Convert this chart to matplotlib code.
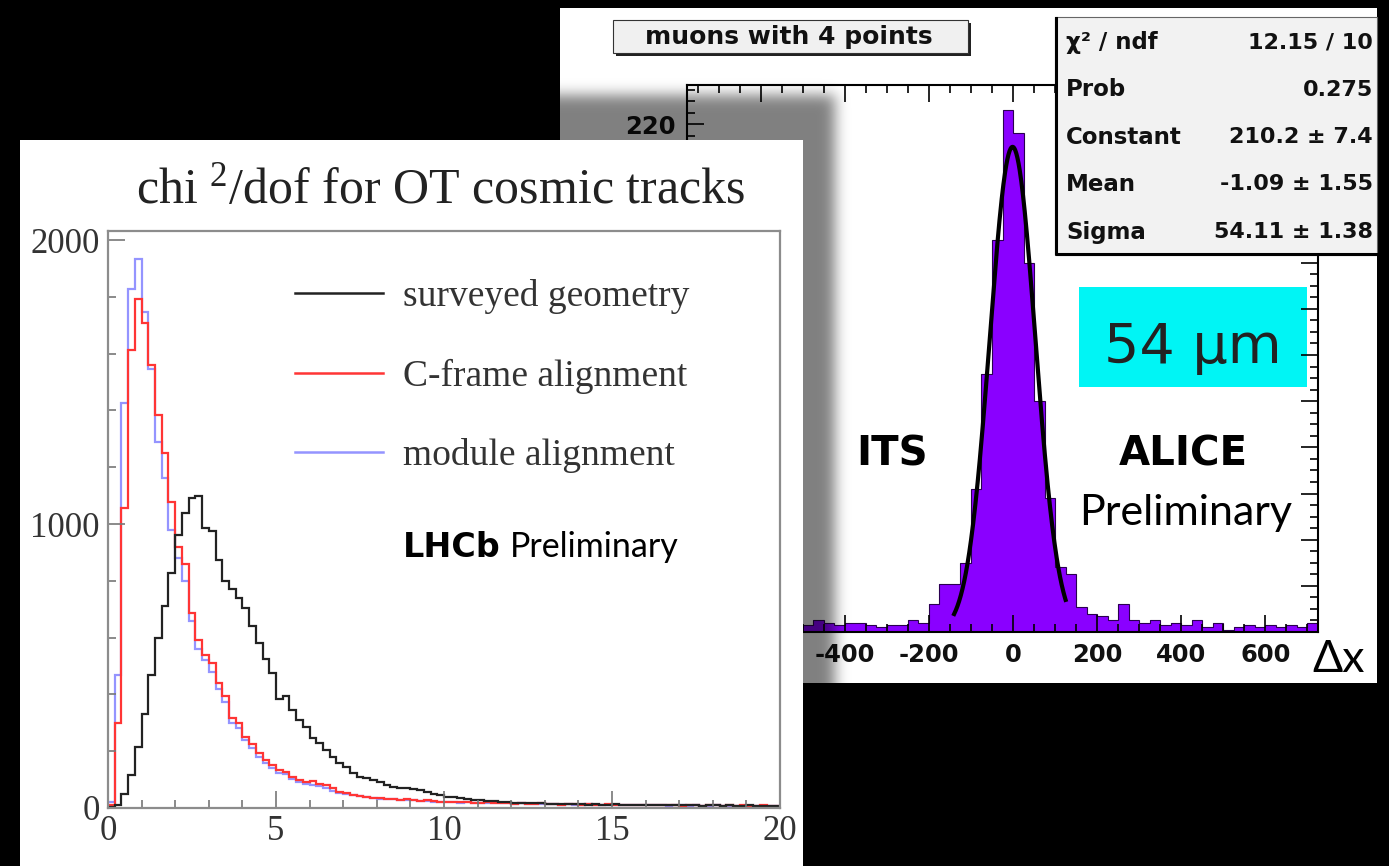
import numpy as np
import matplotlib
matplotlib.use("Agg")
import matplotlib.pyplot as plt
from matplotlib.patches import Rectangle
from matplotlib.lines import Line2D
from matplotlib.ticker import MultipleLocator, FuncFormatter

W, H = 1389, 866

# ---------------- LHCb: chi2/dof of OT cosmic tracks, 100 bins in [0, 20]
chi2_edges = np.linspace(0, 20, 101)
surveyed = [2, 12, 51, 116, 216, 330, 470, 600, 710, 826,
            960, 1040, 1091, 1098, 986, 975, 873, 800, 770, 740,
            705, 640, 580, 525, 475, 385, 395, 345, 310, 285,
            245, 228, 204, 181, 157, 145, 122, 110, 105, 99,
            90, 81, 75, 72, 69, 66, 63, 55, 51, 45,
            40, 37, 34, 31, 28, 27, 25, 23, 22, 20,
            19, 18, 17, 16, 16, 15, 14, 15, 13, 14,
            13, 12, 14, 12, 11, 13, 11, 12, 10, 11,
            12, 10, 9, 11, 10, 9, 10, 9, 8, 10,
            9, 8, 9, 8, 7, 9, 8, 7, 8, 7]
cframe = [10, 298, 1055, 1613, 1791, 1707, 1560, 1384, 1249, 1079,
          920, 861, 685, 590, 539, 509, 440, 395, 316, 298,
          251, 225, 192, 169, 150, 135, 128, 110, 100, 92,
          95, 85, 81, 70, 57, 52, 46, 44, 40, 34,
          36, 31, 33, 28, 30, 27, 25, 28, 24, 22,
          22, 21, 20, 22, 19, 18, 20, 17, 16, 18,
          15, 17, 14, 15, 16, 13, 14, 12, 15, 13,
          12, 14, 11, 12, 13, 10, 12, 11, 10, 12,
          9, 11, 10, 9, 11, 8, 10, 9, 8, 10,
          9, 8, 9, 7, 9, 8, 7, 9, 8, 7]
module = [20, 468, 1425, 1827, 1933, 1745, 1545, 1290, 1161, 979,
          880, 800, 660, 560, 520, 480, 420, 375, 300, 280,
          240, 210, 180, 160, 140, 125, 118, 102, 92, 85,
          82, 78, 72, 60, 52, 48, 45, 42, 40, 36,
          33, 32, 30, 29, 27, 28, 24, 25, 22, 21,
          20, 21, 19, 20, 18, 19, 17, 18, 16, 17,
          15, 16, 14, 15, 13, 14, 13, 12, 14, 12,
          11, 13, 11, 12, 10, 11, 12, 10, 9, 11,
          10, 9, 10, 8, 9, 10, 8, 9, 8, 7,
          9, 8, 7, 8, 7, 8, 6, 7, 8, 7]
series_labels = ["surveyed geometry", "C-frame alignment", "module alignment"]
series_colors = ["#222222", "#ff3535", "#9494ff"]

# ---------------- ALICE ITS: residual dx for muons with 4 points, 25-wide bins
dx_edges = np.arange(-775, 726, 25)
dx_counts = [3, 2, 4, 3, 2, 3, 4, 2, 3, 4,
             2, 3, 5, 4, 3, 4, 4, 3, 2, 3,
             3, 5, 4, 12, 21, 21, 30, 62, 112, 170,
             226, 216, 160, 100, 58, 28, 25, 11, 8, 7,
             5, 12, 5, 4, 5, 3, 4, 3, 5, 2,
             4, 1, 2, 3, 2, 3, 2, 3, 2, 4]
fit_constant, fit_mean, fit_sigma = 210.2, -1.09, 54.11
fit_lo, fit_hi = -140, 125
stats_rows = [("χ² / ndf", "12.15 / 10"),
              ("Prob", "0.275"),
              ("Constant", f"{fit_constant:.1f} ± 7.4"),
              ("Mean", f"{fit_mean:.2f} ± 1.55"),
              ("Sigma", f"{fit_sigma:.2f} ± 1.38")]


def fbox(x0, y0, x1, y1):
    # pixel box (top-left origin) -> figure fraction rect
    return [x0 / W, 1 - y1 / H, (x1 - x0) / W, (y1 - y0) / H]


def frect(x0, y0, x1, y1, **kw):
    r = Rectangle((x0 / W, 1 - y1 / H), (x1 - x0) / W, (y1 - y0) / H,
                  transform=fig.transFigure, **kw)
    fig.add_artist(r)
    return r


def ftext(x, y, s, **kw):
    return fig.text(x / W, 1 - y / H, s, **kw)


plt.rcParams["mathtext.fontset"] = "custom"
plt.rcParams["mathtext.rm"] = "Liberation Serif"
plt.rcParams["mathtext.it"] = "Liberation Serif"
plt.rcParams["axes.unicode_minus"] = False

gill = ["Lato", "DejaVu Sans"]

fig = plt.figure(figsize=(W / 100, H / 100), dpi=100, facecolor="black")

# ===================== ALICE panel =====================
frect(560, 8, 1377, 683, facecolor="white", edgecolor="none", zorder=1)
frect(1079, 287, 1307, 387, facecolor="#00f5f5", edgecolor="none", zorder=1.5)

ax_a = fig.add_axes(fbox(687, 85, 1318, 632))
ax_a.set_zorder(2)
ax_a.set_facecolor("none")
ax_a.stairs(dx_counts, dx_edges, fill=True, color="#8a00ff", lw=0)
ax_a.stairs(dx_counts, dx_edges, color="#2a0050", lw=0.8)
xf = np.linspace(fit_lo, fit_hi, 200)
ax_a.plot(xf, fit_constant * np.exp(-0.5 * ((xf - fit_mean) / fit_sigma) ** 2),
          color="black", lw=3)
ax_a.set_xlim(-775, 725)
ax_a.set_ylim(0, 237)
ax_a.xaxis.set_major_locator(MultipleLocator(200))
ax_a.xaxis.set_minor_locator(MultipleLocator(50))
ax_a.yaxis.set_major_locator(MultipleLocator(20))
ax_a.yaxis.set_minor_locator(MultipleLocator(5))
# labels further left / lower sit under the LHCb panel
ax_a.xaxis.set_major_formatter(FuncFormatter(lambda v, p: f"{v:g}" if v > -500 else ""))
ax_a.yaxis.set_major_formatter(FuncFormatter(lambda v, p: f"{v:g}" if v > 210 else ""))
ax_a.tick_params(which="both", direction="in", top=True, right=True,
                 width=1.2, color="black")
ax_a.tick_params(which="major", length=12, pad=8, labelsize=17.5)
ax_a.tick_params(which="minor", length=5.5)
for lab in ax_a.get_xticklabels() + ax_a.get_yticklabels():
    lab.set_fontweight("bold")
    lab.set_family("DejaVu Sans")
    lab.set_color("#111111")
for sp in ax_a.spines.values():
    sp.set_linewidth(1.5)

# "muons with 4 points" label with drop shadow
frect(616, 23, 971, 56, facecolor="#222222", edgecolor="none", zorder=3)
frect(613, 20, 968, 53, facecolor="#f0f0f0", edgecolor="#333333", lw=0.8, zorder=3.1)
ftext(789, 37, "muons with 4 points", ha="center", va="center",
      family="DejaVu Sans", weight="bold", size=18, color="#111111", zorder=3.2)

# fit statistics box
frect(1055, 17, 1377, 255, facecolor="#f2f2f2", edgecolor="#666666", lw=0.8, zorder=3)
fig.add_artist(Line2D([1056 / W, 1056 / W, 1377 / W], [1 - 18 / H, 1 - 254 / H, 1 - 254 / H],
                      transform=fig.transFigure, color="black", lw=2.2, zorder=3.1))
for i, (name, val) in enumerate(stats_rows):
    yy = 42 + i * 47.5
    ftext(1066, yy, name, ha="left", va="center", family="DejaVu Sans",
          weight="bold", size=16.5, color="#111111", zorder=3.2)
    ftext(1373, yy, val, ha="right", va="center", family="DejaVu Sans",
          weight="bold", size=16, color="#111111", zorder=3.2)

ftext(1193, 363, "54 μm", ha="center", va="baseline", family="DejaVu Sans",
      size=40, color="#222222", zorder=3)
ftext(892, 465, "ITS", ha="center", va="baseline", family="DejaVu Sans",
      weight="bold", size=29, color="black", zorder=3)
ftext(1183, 465, "ALICE", ha="center", va="baseline", family="DejaVu Sans",
      weight="bold", size=29, color="black", zorder=3)
ftext(1186, 525, "Preliminary", ha="center", va="baseline", family=gill,
      size=31, color="black", zorder=3)
ftext(1312, 672, "Δx", ha="left", va="baseline", family=gill,
      size=32, color="black", zorder=3)

# ===================== drop shadow of the LHCb panel =====================
mask = np.zeros((H, W))
mask[95:821, 52:835] = 1.0
kern = np.exp(-0.5 * (np.arange(-21, 22) / 7.0) ** 2)
kern /= kern.sum()
mask = np.apply_along_axis(lambda r: np.convolve(r, kern, mode="same"), 1, mask)
mask = np.apply_along_axis(lambda c: np.convolve(c, kern, mode="same"), 0, mask)
shadow = np.zeros((H, W, 4))
shadow[..., 3] = 0.5 * mask
ax_s = fig.add_axes([0, 0, 1, 1])
ax_s.imshow(shadow, extent=(0, W, H, 0), interpolation="nearest", aspect="auto")
ax_s.set_xlim(0, W)
ax_s.set_ylim(H, 0)
ax_s.axis("off")
ax_s.set_zorder(5)

# ===================== LHCb panel =====================
frect(20, 140, 803, 866, facecolor="white", edgecolor="none", zorder=6)

ax_l = fig.add_axes(fbox(108, 231, 780, 808))
ax_l.set_zorder(7)
ax_l.set_facecolor("none")
for vals, col in zip([module, cframe, surveyed], series_colors[::-1]):
    ax_l.stairs(vals, chi2_edges, color=col, lw=1.6)
ax_l.set_xlim(0, 20)
ax_l.set_ylim(0, 2032)
ax_l.xaxis.set_major_locator(MultipleLocator(5))
ax_l.xaxis.set_minor_locator(MultipleLocator(1))
ax_l.yaxis.set_major_locator(MultipleLocator(1000))
ax_l.yaxis.set_minor_locator(MultipleLocator(200))
ax_l.tick_params(which="both", direction="in", color="#777777", width=1.2)
ax_l.tick_params(which="major", length=12, labelsize=25, labelcolor="#333333")
ax_l.tick_params(axis="x", which="major", pad=5)
ax_l.tick_params(axis="y", which="major", pad=6)
ax_l.tick_params(which="minor", length=6)
for lab in ax_l.get_xticklabels() + ax_l.get_yticklabels():
    lab.set_family("Liberation Serif")
for sp in ax_l.spines.values():
    sp.set_color("#8c8c8c")
    sp.set_linewidth(1.6)

handles = [Line2D([], [], color=c, lw=1.8) for c in series_colors]
ax_l.legend(handles, series_labels, loc="upper left",
            bbox_to_anchor=(295 / W, 1 - 279 / H), bbox_transform=fig.transFigure,
            frameon=False, prop={"family": "Liberation Serif", "size": 27},
            labelcolor="#333333", handlelength=2.35, handletextpad=0.52,
            labelspacing=1.19, borderpad=0, borderaxespad=0)

ftext(441, 203, "chi $^{2}$/dof for OT cosmic tracks", ha="center", va="baseline",
      family="Liberation Serif", size=36, color="#222222", zorder=8)

renderer = fig.canvas.get_renderer()
t_lhcb = ftext(403, 557, "LHCb", ha="left", va="baseline", family="DejaVu Sans",
               weight="bold", size=24, color="black", zorder=8)
bb = t_lhcb.get_window_extent(renderer)
fig.text((bb.x1 + 9) / W, 1 - 557 / H, "Preliminary", ha="left", va="baseline",
         family=gill, size=24.5, color="black", zorder=8)

fig.savefig("out.png", dpi=100, facecolor="black")
